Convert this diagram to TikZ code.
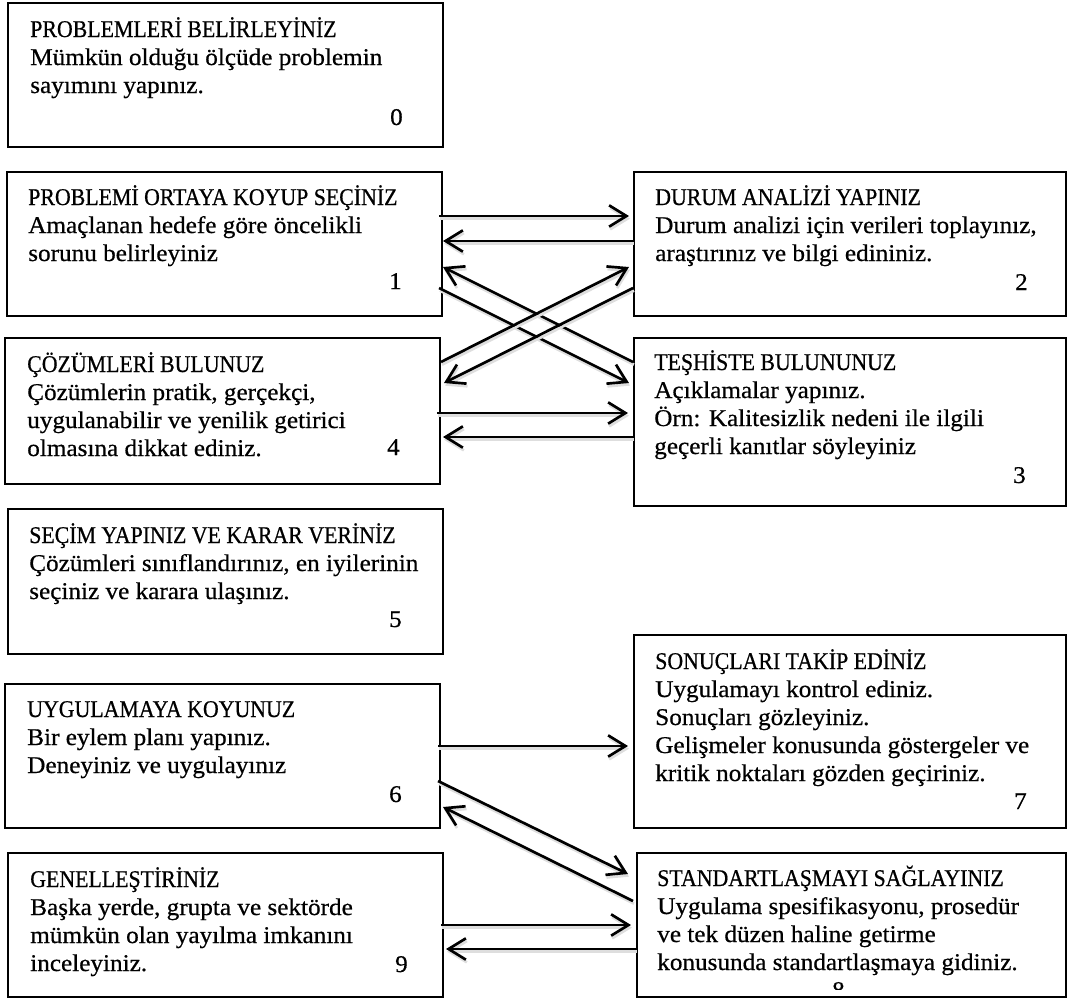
\documentclass[tikz,border=0pt]{standalone}
\usepackage{fontspec}
\setmainfont{Liberation Serif}[FakeStretch=1.05,FakeBold=0.6]
\newfontfamily\capsfont{Liberation Serif}[FakeStretch=0.91,FakeBold=0.6]
\usetikzlibrary{arrows.meta,calc}
\begin{document}
\begin{tikzpicture}[x=0.75pt,y=-0.75pt,
  box/.style={draw, line width=1.5pt, rectangle, outer sep=0pt, inner sep=0pt, anchor=north west},
  txt/.style={anchor=base west, inner sep=0pt, font=\fontsize{18pt}{21pt}\selectfont},
  num/.style={anchor=base east, inner sep=0pt, font=\fontsize{18pt}{21pt}\selectfont},
  conn/.style={line width=2pt, -{Straight Barb[length=13pt,width=16pt]},
    preaction={draw=black!13, line width=2pt, transform canvas={xshift=0.75pt,yshift=-2pt}}}]

\useasboundingbox (0,0) rectangle (1068,1001);

% ---- boxes -------------------------------------------------------
\node[box, minimum width=326.25pt, minimum height=108pt]   (b0) at (8,3)     {};
\node[box, minimum width=326.25pt, minimum height=108pt]   (b1) at (7,172)   {};
\node[box, minimum width=324pt,    minimum height=108pt]   (b2) at (634,172) {};
\node[box, minimum width=326.25pt, minimum height=109.5pt] (b4) at (5,338)   {};
\node[box, minimum width=324pt,    minimum height=126pt]   (b3) at (634,338) {};
\node[box, minimum width=326.25pt, minimum height=108.75pt](b5) at (8,509)   {};
\node[box, minimum width=326.25pt, minimum height=108pt]   (b6) at (5,684)   {};
\node[box, minimum width=324pt,    minimum height=144.75pt](b7) at (634,635) {};
\node[box, minimum width=326.25pt, minimum height=108pt]   (b9) at (8,853)   {};
\node[box, minimum width=321.75pt, minimum height=108pt]   (b8) at (637,853) {};

% ---- texts -------------------------------------------------------
\node[txt] (t0) at ($(b0.north west)+(22,34)$) {\parbox[t]{12cm}{{\capsfont PROBLEMLERİ BELİRLEYİNİZ}\\Mümkün olduğu ölçüde problemin\\sayımını yapınız.}};
\node[num] (n0) at ($(b0.north east)+(-40,122)$) {0};

\node[txt] (t1) at ($(b1.north west)+(21,33)$) {\parbox[t]{12cm}{{\capsfont PROBLEMİ ORTAYA KOYUP SEÇİNİZ}\\Amaçlanan hedefe göre öncelikli\\sorunu belirleyiniz}};
\node[num] (n1) at ($(b1.north east)+(-40,117)$) {1};

\node[txt] (t2) at ($(b2.north west)+(21,33)$) {\parbox[t]{12cm}{{\capsfont DURUM ANALİZİ YAPINIZ}\\Durum analizi için verileri toplayınız,\\araştırınız ve bilgi edininiz.}};
\node[num] (n2) at ($(b2.north east)+(-38,118)$) {2};

\node[txt] (t4) at ($(b4.north west)+(22,34)$) {\parbox[t]{12cm}{{\capsfont ÇÖZÜMLERİ BULUNUZ}\\Çözümlerin pratik, gerçekçi,\\uygulanabilir ve yenilik getirici\\olmasına dikkat ediniz.}};
\node[num] (n4) at ($(b4.north east)+(-40,117)$) {4};

\node[txt] (t3) at ($(b3.north west)+(20,32)$) {\parbox[t]{12cm}{{\capsfont TEŞHİSTE BULUNUNUZ}\\Açıklamalar yapınız.\\Örn: Kalitesizlik nedeni ile ilgili\\geçerli kanıtlar söyleyiniz}};
\node[num] (n3) at ($(b3.north east)+(-40,145)$) {3};

\node[txt] (t5) at ($(b5.north west)+(21,34)$) {\parbox[t]{12cm}{{\capsfont SEÇİM YAPINIZ VE KARAR VERİNİZ}\\Çözümleri sınıflandırınız, en iyilerinin\\seçiniz ve karara ulaşınız.}};
\node[num] (n5) at ($(b5.north east)+(-41,118)$) {5};

\node[txt] (t6) at ($(b6.north west)+(22,33)$) {\parbox[t]{12cm}{{\capsfont UYGULAMAYA KOYUNUZ}\\Bir eylem planı yapınız.\\Deneyiniz ve uygulayınız}};
\node[num] (n6) at ($(b6.north east)+(-38,118)$) {6};

\node[txt] (t7) at ($(b7.north west)+(21,34)$) {\parbox[t]{12cm}{{\capsfont SONUÇLARI TAKİP EDİNİZ}\\Uygulamayı kontrol ediniz.\\Sonuçları gözleyiniz.\\Gelişmeler konusunda göstergeler ve\\kritik noktaları gözden geçiriniz.}};
\node[num] (n7) at ($(b7.north east)+(-39,174)$) {7};

\node[txt] (t9) at ($(b9.north west)+(22,34)$) {\parbox[t]{12cm}{{\capsfont GENELLEŞTİRİNİZ}\\Başka yerde, grupta ve sektörde\\mümkün olan yayılma imkanını\\inceleyiniz.}};
\node[num] (n9) at ($(b9.north east)+(-35,119)$) {9};

\node[txt] (t8) at ($(b8.north west)+(20,33)$) {\parbox[t]{12cm}{{\capsfont STANDARTLAŞMAYI SAĞLAYINIZ}\\Uygulama spesifikasyonu, prosedür\\ve tek düzen haline getirme\\konusunda standartlaşmaya gidiniz.}};
% the last number sits below the text area and is cut off by it
\begin{scope}
  \clip ($(b8.north west)+(2,2)$) rectangle ($(b8.south east)+(-2,-8)$);
  \node[num] (n8) at ($(b8.north west)+(208,145)$) {8};
\end{scope}

% ---- connectors --------------------------------------------------
\draw[conn] ($(b1.north east)+(-3,44)$)  -- ($(b2.north west)+(-5,44)$);
\draw[conn] ($(b2.north west)+(-1,69)$)  -- ($(b1.north east)+(1,69)$);
\draw[conn] ($(b3.north west)+(-1,24)$)  -- ($(b1.north east)+(1,95)$);
\draw[conn] ($(b1.north east)+(-3,116)$) -- ($(b3.north west)+(-5,45)$);
\draw[conn] ($(b4.north east)+(1,24)$)   -- ($(b2.north west)+(-5,95)$);
\draw[conn] ($(b2.north west)+(-1,116)$) -- ($(b4.north east)+(4,45)$);
\draw[conn] ($(b4.north east)+(-3,75)$)  -- ($(b3.north west)+(-6,75)$);
\draw[conn] ($(b3.north west)+(-1,99)$)  -- ($(b4.north east)+(3,99)$);

\draw[conn] ($(b6.north east)+(-2,62)$)  -- ($(b7.north west)+(-6,111)$);
\draw[conn] ($(b6.north east)+(-2,97)$)  -- ($(b8.north west)+(-9,21)$);
\draw[conn] ($(b8.north west)+(-4,48)$)  -- ($(b6.north east)+(3,123)$);
\draw[conn] ($(b9.north east)+(-2,72)$)  -- ($(b8.north west)+(-6,72)$);
\draw[conn] ($(b8.north west)+(-1,96)$)  -- ($(b9.north east)+(3,96)$);

\end{tikzpicture}
\end{document}
